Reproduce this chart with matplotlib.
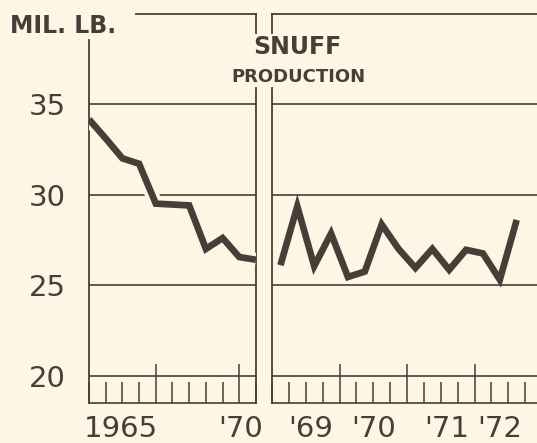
import matplotlib
matplotlib.use("Agg")
import matplotlib.pyplot as plt
import matplotlib.patheffects as pe
import numpy as np

# ---- data ----
annual_years = [1961, 1962, 1963, 1964, 1965, 1966, 1967, 1968, 1969, 1970, 1971]
annual_values = [34.15, 33.1, 32.0, 31.7, 29.5, 29.45, 29.4, 27.0, 27.6, 26.55, 26.4]

quarter_labels = ["69Q1", "69Q2", "69Q3", "69Q4", "70Q1", "70Q2", "70Q3", "70Q4",
                  "71Q1", "71Q2", "71Q3", "71Q4", "72Q1", "72Q2", "72Q3"]
quarter_values = [26.1, 29.35, 26.05, 27.85, 25.45, 25.75, 28.35, 27.0,
                  25.95, 27.0, 25.85, 26.95, 26.75, 25.3, 28.6]

y_ticks = [20, 25, 30, 35]
left_xlabels = ["1965", "'70"]
right_xlabels = ["'69", "'70", "'71", "'72"]

BG = "#fcf7e4"
INK = "#4a3d38"

W, H = 537, 443
fig = plt.figure(figsize=(W / 100, H / 100), dpi=100, facecolor=BG)

def frac_x(px):
    return px / W

def frac_y(py):
    return 1 - py / H

top_px, bot_px = 14, 403
axL = fig.add_axes([frac_x(89), frac_y(bot_px), (256 - 89) / W, (bot_px - top_px) / H])
axR = fig.add_axes([frac_x(272), frac_y(bot_px), (542 - 272) / W, (bot_px - top_px) / H])

# y-limits: 20 at y=375.7 px, 35 at y=104 px
ppu = (375.7 - 104) / 15.0
ylo = 20 - (bot_px - 375.7) / ppu
yhi = 35 + (104 - top_px) / ppu

# quarterly positions (mid-quarter)
q_x = [1969 + i * 0.25 + 0.125 for i in range(len(quarter_values))]

for ax in (axL, axR):
    ax.set_facecolor(BG)
    ax.set_ylim(ylo, yhi)
    for s in ax.spines.values():
        s.set_visible(False)
    ax.set_yticks(y_ticks)
    for yv in y_ticks:
        ax.axhline(yv, color=INK, lw=1.2, zorder=1)
    ax.tick_params(axis="y", length=0)
    ax.tick_params(axis="x", which="both", direction="in", color=INK, width=1.1,
                   labelbottom=False)
    ax.tick_params(axis="x", which="major", length=28)
    ax.tick_params(axis="x", which="minor", length=15)
    # bottom edge
    ax.plot([0, 1], [0, 0], transform=ax.transAxes, color=INK, lw=1.2, clip_on=False)

# left axes
axL.set_xlim(annual_years[0], annual_years[-1])
axL.set_xticks([1965, 1970])
axL.set_xticks(annual_years, minor=True)
axL.set_yticklabels([str(v) for v in y_ticks], fontsize=21, color=INK)
axL.tick_params(axis="y", pad=17)
axL.plot(annual_years, annual_values, color=INK, lw=4.8, solid_joinstyle="miter",
         solid_capstyle="butt", zorder=3,
         path_effects=[pe.Stroke(linewidth=10, foreground=BG), pe.Normal()])

# frame lines for left panel (open corner at top-left, gap for title)
y_gap_top = 1 - (33 - top_px) / (bot_px - top_px)
y_gap_bot = 1 - (88 - top_px) / (bot_px - top_px)
axL.plot([0, 0], [0, 1 - (40 - top_px) / (bot_px - top_px)], transform=axL.transAxes,
         color=INK, lw=1.3, clip_on=False)
axL.plot([(136 - 89) / 167, 1], [1, 1], transform=axL.transAxes, color=INK, lw=1.3, clip_on=False)
axL.plot([1, 1], [y_gap_top, 1], transform=axL.transAxes, color=INK, lw=1.3, clip_on=False)
axL.plot([1, 1], [0, y_gap_bot], transform=axL.transAxes, color=INK, lw=1.3, clip_on=False)

# right axes
axR.set_xlim(1969, 1973)
axR.set_xticks([1970, 1971, 1972])
axR.set_xticks([1969 + i * 0.25 for i in range(17)], minor=True)
axR.set_yticklabels([])
axR.plot(q_x, quarter_values, color=INK, lw=4.8, solid_joinstyle="miter",
         solid_capstyle="butt", zorder=3)
axR.plot([0, 1], [1, 1], transform=axR.transAxes, color=INK, lw=1.3, clip_on=False)
axR.plot([0, 0], [y_gap_top, 1], transform=axR.transAxes, color=INK, lw=1.3, clip_on=False)
axR.plot([0, 0], [0, y_gap_bot], transform=axR.transAxes, color=INK, lw=1.3, clip_on=False)

# x labels
lab_y = frac_y(429)
left_label_x = [1962.9, 1970.05]
for xv, t in zip(left_label_x, left_xlabels):
    px = 89 + (xv - 1961) / 10 * 167
    fig.text(frac_x(px), lab_y, t, ha="center", va="center", fontsize=21, color=INK)
right_label_x = [1969.58, 1970.5, 1971.59, 1972.38]
for xv, t in zip(right_label_x, right_xlabels):
    px = 272 + (xv - 1969) / 4 * 270
    fig.text(frac_x(px), lab_y, t, ha="center", va="center", fontsize=21, color=INK)

# titles
fig.text(frac_x(10), frac_y(26), "MIL. LB.", ha="left", va="center", fontsize=17,
         fontweight="bold", color=INK)
fig.text(frac_x(297), frac_y(47.5), "SNUFF", ha="center", va="center", fontsize=17,
         fontweight="bold", color=INK)
fig.text(frac_x(298), frac_y(76.5), "PRODUCTION", ha="center", va="center", fontsize=13,
         fontweight="bold", color=INK)

fig.savefig("out.png", dpi=100, facecolor=BG)
